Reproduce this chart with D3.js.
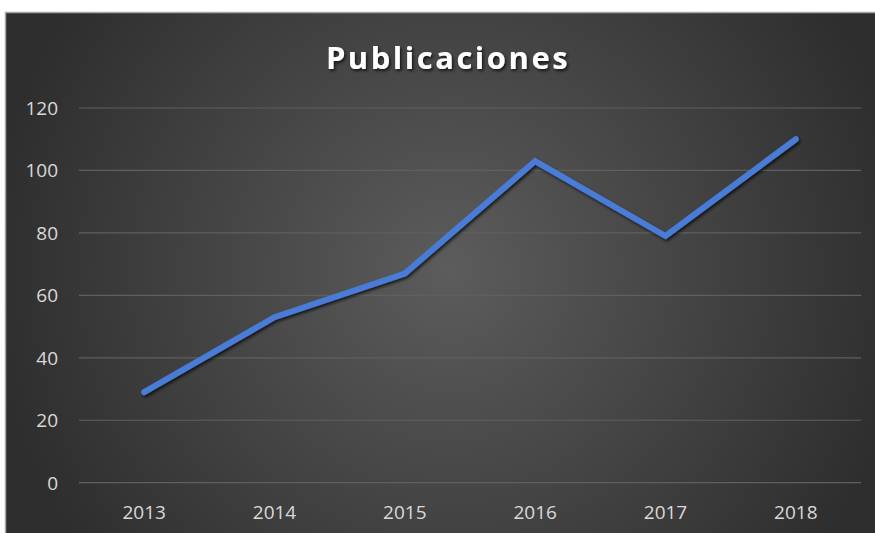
<!DOCTYPE html>
<html>
<head>
<meta charset="utf-8">
<script src="https://cdn.jsdelivr.net/npm/d3@7"></script>
<style>
  body { margin: 0; background: #fff; }
  #chart { width: 875px; height: 533px; }
</style>
</head>
<body>
<div id="chart"></div>
<script>
let years = ['2013', '2014', '2015', '2016', '2017', '2018'];
let publicaciones = [29, 53, 67, 103, 79, 110];
let yTicks = [0, 20, 40, 60, 80, 100, 120];

const wd = 875, ht = 533;
const mg = {top: 108, right: 14, bottom: 50, left: 79};

const svg = d3.select('#chart').append('svg')
    .attr('width', wd)
    .attr('height', ht);

var defs = svg.append('defs');
var grad = defs.append('radialGradient')
    .attr('id', 'bg')
    .attr('gradientUnits', 'userSpaceOnUse')
    .attr('cx', 450).attr('cy', 270).attr('r', 470);
grad.append('stop').attr('offset', '0%').attr('stop-color', '#5c5c5c');
grad.append('stop').attr('offset', '100%').attr('stop-color', '#2d2d2d');

var shadow = defs.append('filter').attr('id', 'shadow')
    .attr('x', '-10%').attr('y', '-10%').attr('width', '120%').attr('height', '130%');
shadow.append('feDropShadow')
    .attr('dx', 1.5).attr('dy', 2).attr('stdDeviation', 1.5)
    .attr('flood-color', '#000').attr('flood-opacity', 0.7);

// background panel
svg.append('rect')
    .attr('x', 5).attr('y', 12)
    .attr('width', wd - 5).attr('height', ht - 12)
    .attr('fill', 'url(#bg)');
svg.append('path')
    .attr('d', `M5.5,${ht} V12.5 H${wd}`)
    .attr('fill', 'none')
    .attr('stroke', '#a6a6a6')
    .attr('stroke-width', 1.5);

const x = d3.scalePoint()
    .domain(years)
    .range([mg.left, wd - mg.right])
    .padding(0.5);

const y = d3.scaleLinear()
    .domain([0, 120])
    .range([482.7, mg.top]);

const g = svg.append('g');

// gridlines
g.selectAll('.grid').data(yTicks).enter().append('line')
    .attr('class', 'grid')
    .attr('x1', mg.left).attr('x2', wd - mg.right)
    .attr('y1', d => y(d)).attr('y2', d => y(d))
    .attr('stroke', '#5f5f5f')
    .attr('stroke-width', 1.2);

// y labels
g.selectAll('.ylab').data(yTicks).enter().append('text')
    .attr('class', 'ylab')
    .attr('x', 58)
    .attr('y', d => y(d))
    .attr('dy', '0.36em')
    .attr('text-anchor', 'end')
    .attr('fill', '#d9d9d9')
    .attr('font-family', 'Open Sans')
    .attr('font-size', 19)
    .text(d => d);

// x labels
g.selectAll('.xlab').data(years).enter().append('text')
    .attr('class', 'xlab')
    .attr('x', d => x(d))
    .attr('y', 519)
    .attr('text-anchor', 'middle')
    .attr('fill', '#d9d9d9')
    .attr('font-family', 'Open Sans')
    .attr('font-size', 19)
    .text(d => d);

// line
const line = d3.line()
    .x((d, i) => x(years[i]))
    .y(d => y(d));

g.append('path')
    .datum(publicaciones)
    .attr('d', line)
    .attr('fill', 'none')
    .attr('stroke', '#4a7bd6')
    .attr('stroke-width', 6)
    .attr('stroke-linecap', 'round')
    .attr('stroke-linejoin', 'miter')
    .attr('filter', 'url(#shadow)');

// title
svg.append('text')
    .attr('x', 448)
    .attr('y', 69)
    .attr('text-anchor', 'middle')
    .attr('fill', '#ffffff')
    .attr('font-family', 'Open Sans')
    .attr('font-weight', 'bold')
    .attr('font-size', 31)
    .attr('letter-spacing', '2.5px')
    .attr('filter', 'url(#shadow)')
    .text('Publicaciones');
</script>
</body>
</html>
